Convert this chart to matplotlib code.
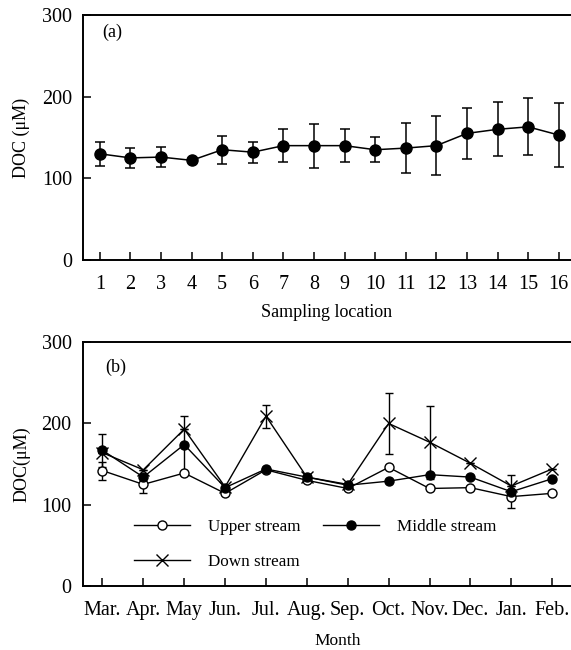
import matplotlib
matplotlib.use('Agg')
import matplotlib.pyplot as plt
import numpy as np

plt.rcParams['font.family'] = ['Liberation Serif', 'DejaVu Serif']

# panel (a): DOC by sampling location
loc = np.arange(1, 17)
doc_loc = [130, 125, 126, 122, 135, 132, 140, 140, 140, 135, 137, 140, 155, 160, 163, 153]
err_loc = [15, 12, 12, 0, 17, 13, 20, 27, 20, 15, 31, 36, 31, 33, 35, 39]

# panel (b): DOC by month
months = ['Mar.', 'Apr.', 'May', 'Jun.', 'Jul.', 'Aug.', 'Sep.', 'Oct.', 'Nov.', 'Dec.', 'Jan.', 'Feb.']
upper = [142, 125, 139, 114, 143, 130, 120, 146, 120, 121, 110, 114]
middle = [167, 134, 174, 121, 144, 134, 124, 129, 137, 134, 116, 132]
down = [164, 143, 193, 122, 209, 134, 125, 200, 177, 151, 123, 144]
err_upper = [11, 10, 0, 0, 0, 0, 0, 0, 0, 0, 0, 0]
err_middle = [20, 0, 35, 0, 0, 0, 0, 0, 0, 0, 20, 0]
err_down = [0, 0, 0, 0, 14, 0, 0, 38, 45, 0, 0, 0]

fig = plt.figure(figsize=(5.71, 6.5), dpi=100)
ax1 = fig.add_axes([0.1454, 0.600, 0.8546, 0.377])
ax2 = fig.add_axes([0.1450, 0.0985, 0.8550, 0.375])

for ax in (ax1, ax2):
    ax.spines['right'].set_visible(False)
    for s in ('left', 'bottom', 'top'):
        ax.spines[s].set_linewidth(1.4)
    ax.tick_params(direction='in', length=6, width=1.1, labelsize=14.5, top=False, right=False)
    ax.tick_params(axis='x', pad=10.5)
    ax.tick_params(axis='y', pad=8)
    ax.set_ylim(0, 300)
    ax.set_yticks([0, 100, 200, 300])

ax1.errorbar(loc, doc_loc, yerr=err_loc, color='black', marker='o', ms=8,
             lw=1.1, elinewidth=1.1, capsize=3.5, capthick=1.1)
ax1.set_xlim(0.45, 16.4)
ax1.set_xticks(loc)
ax1.set_xlabel('Sampling location', fontsize=13)
ax1.xaxis.set_label_coords(0.5, -0.18)
ax1.set_ylabel('DOC (\u03bcM)', fontsize=13)
ax1.yaxis.set_label_coords(-0.108, 0.5)
ax1.text(0.04, 0.91, '(a)', transform=ax1.transAxes, fontsize=13)

xm = np.arange(len(months))
ax2.errorbar(xm, upper, yerr=err_upper, color='black', marker='o', mfc='white', ms=6.5,
             lw=1.0, elinewidth=1.0, capsize=3, capthick=1.0, label='Upper stream')
ax2.errorbar(xm, middle, yerr=err_middle, color='black', marker='o', ms=6.5,
             lw=1.0, elinewidth=1.0, capsize=3, capthick=1.0, label='Middle stream')
ax2.errorbar(xm, down, yerr=err_down, color='black', marker='x', ms=8,
             lw=1.0, elinewidth=1.0, capsize=3, capthick=1.0, label='Down stream')
ax2.set_xlim(-0.48, 11.46)
ax2.set_xticks(xm)
ax2.set_xticklabels(months)
ax2.set_xlabel('Month', fontsize=12.5)
ax2.xaxis.set_label_coords(0.523, -0.193)
ax2.set_ylabel('DOC(\u03bcM)', fontsize=13)
ax2.yaxis.set_label_coords(-0.108, 0.5)
ax2.text(0.045, 0.88, '(b)', transform=ax2.transAxes, fontsize=13)

h, l = ax2.get_legend_handles_labels()
h = [x[0] for x in h]
order = [0, 2, 1]  # row-wise: Upper, Middle / Down
ax2.legend([h[i] for i in order], [l[i] for i in order], loc='upper left',
           bbox_to_anchor=(0.105, 0.275), ncol=2, frameon=False,
           fontsize=12.3, handlelength=3.3, handletextpad=1.0, columnspacing=1.35,
           labelspacing=1.1, borderpad=0, borderaxespad=0)

plt.savefig('out.png', dpi=100)
